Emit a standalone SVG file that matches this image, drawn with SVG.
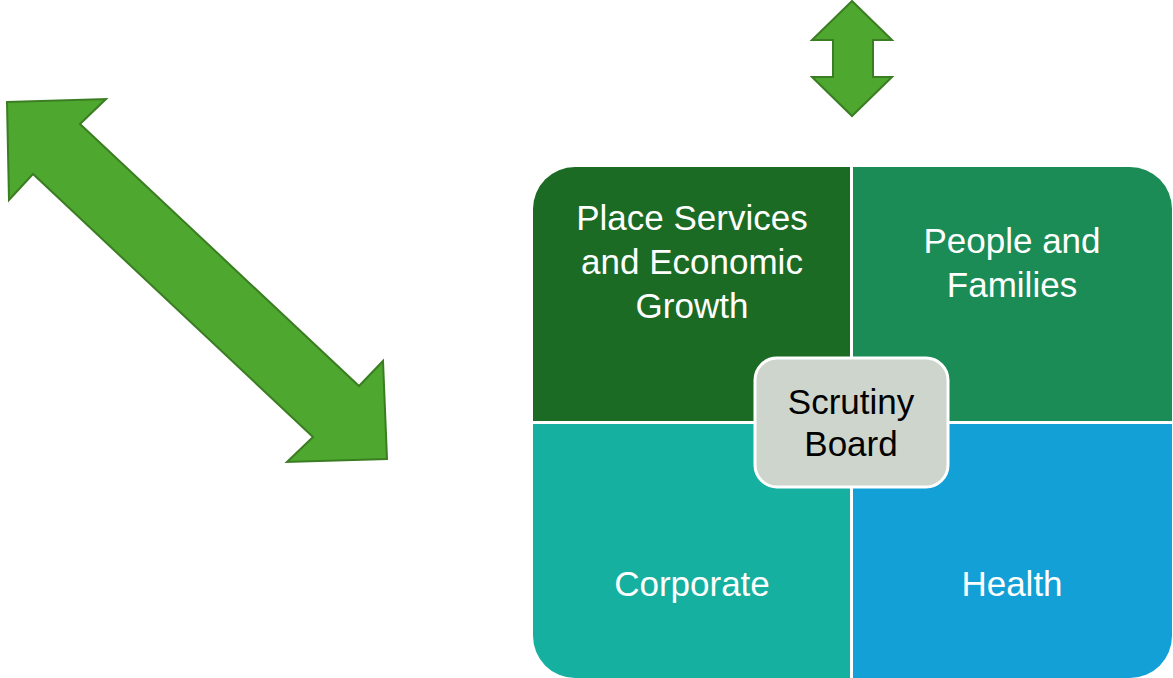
<svg xmlns="http://www.w3.org/2000/svg" width="1173" height="678" viewBox="0 0 1173 678">
<style>
.arrow{fill:#4ea72e;stroke:#3a7d22;stroke-width:2;stroke-linejoin:miter}
.lbl{font-family:"Liberation Sans",Arial,sans-serif;font-size:35px;fill:#ffffff;text-anchor:middle}
.dark{fill:#000000}
</style>
<rect width="1173" height="678" fill="#ffffff"/>
<g id="connectors">
<polygon id="arrow-diagonal" class="arrow" points="7,102 106,99 80,124 359,386 383,361 387,459 287,462 313,437 33,174 9,200"/>
<polygon id="arrow-vertical" class="arrow" points="852,1 892,40 873,40 873,77 892,77 852,116 812,77 833,77 833,40 812,40"/>
</g>
<g id="node-place">
<path d="M533,421 V209 A42,42 0 0 1 575,167 H850 V421 Z" fill="#1b6b24"/>
<text class="lbl" x="692" y="230">Place Services</text>
<text class="lbl" x="692" y="274">and Economic</text>
<text class="lbl" x="692" y="318">Growth</text>
</g>
<g id="node-people">
<path d="M853,167 H1130 A42,42 0 0 1 1172,209 V421 H853 Z" fill="#1b8c56"/>
<text class="lbl" x="1012" y="253">People and</text>
<text class="lbl" x="1012" y="297">Families</text>
</g>
<g id="node-corporate">
<path d="M533,424 H850 V678 H575 A42,42 0 0 1 533,636 Z" fill="#15b09f"/>
<text class="lbl" x="692" y="596">Corporate</text>
</g>
<g id="node-health">
<path d="M853,424 H1172 V636 A42,42 0 0 1 1130,678 H853 Z" fill="#12a0d7"/>
<text class="lbl" x="1012" y="596">Health</text>
</g>
<g id="node-scrutiny">
<rect x="755" y="358" width="193" height="129" rx="22" ry="22" fill="#cdd5cc" stroke="#ffffff" stroke-width="3"/>
<text class="lbl dark" x="851" y="414">Scrutiny</text>
<text class="lbl dark" x="851" y="456">Board</text>
</g>
</svg>
